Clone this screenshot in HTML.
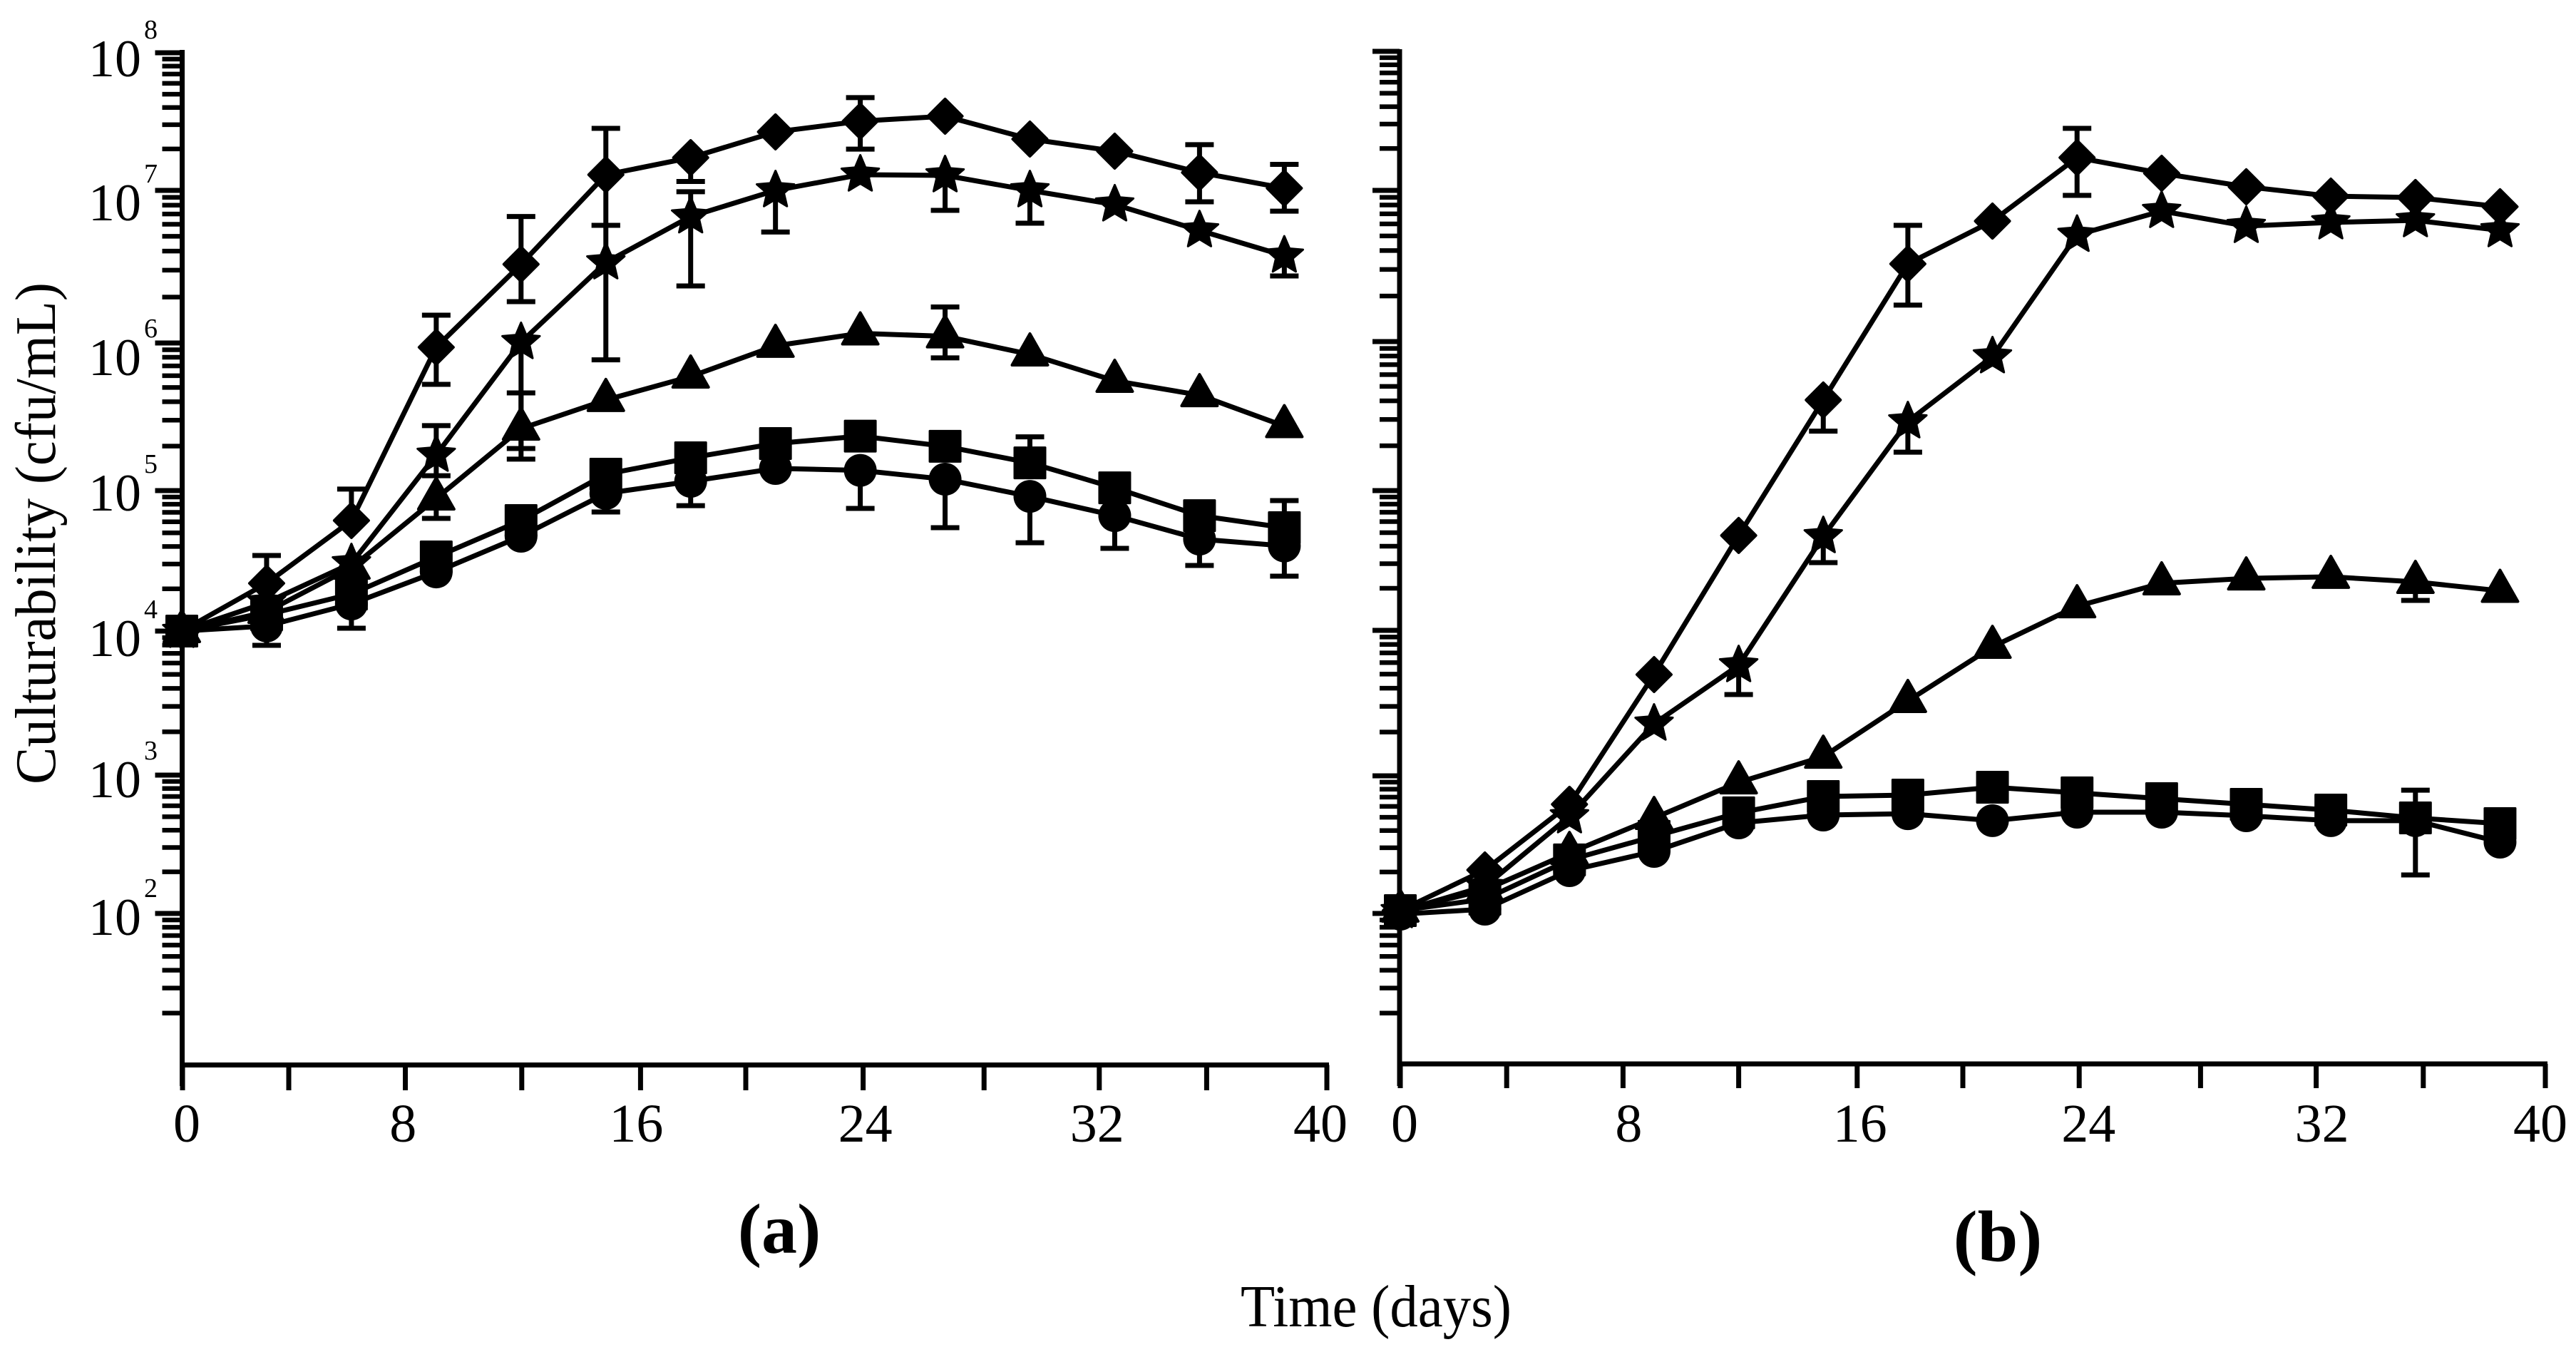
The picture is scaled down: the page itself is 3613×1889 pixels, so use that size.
<!DOCTYPE html>
<html lang="en">
<head>
<meta charset="utf-8">
<title>Culturability over time</title>
<style>
html,body{margin:0;padding:0;background:#fff;width:3613px;height:1889px;overflow:hidden}
svg{display:block}
text{font-family:"Liberation Serif",serif;fill:#000}
</style>
</head>
<body>
<svg id="figure" xmlns="http://www.w3.org/2000/svg" width="3613" height="1889" viewBox="0 0 3613 1889">
  <rect x="0" y="0" width="3613" height="1889" fill="#fff"/>
  <text transform="translate(77,1100) rotate(-90)" font-size="80" textLength="704" lengthAdjust="spacingAndGlyphs">Culturability (cfu/mL)</text>
  <text x="1740" y="1860" font-size="84" textLength="380" lengthAdjust="spacingAndGlyphs">Time (days)</text>
  <text x="1093" y="1757" font-size="100" font-weight="bold" text-anchor="middle">(a)</text>
  <text x="2802" y="1768" font-size="102" font-weight="bold" text-anchor="middle">(b)</text>
</svg>
<script>
// Shared categories and ticks
const days = [0,3,6,9,12,15,18,21,24,27,30,33,36,39];
const xTicks = [0,4,8,12,16,20,24,28,32,36,40];
const xTickLabels = [0,8,16,24,32,40];
const yDecades = [8,7,6,5,4,3,2];
const yBaseLabel = '10';
const n = null;

// Panel (a): log10(cfu/mL)
const aDiamond = [4,4.34,4.787,5.971,6.516,7.114,7.238,7.425,7.503,7.539,7.373,7.285,7.13,7.016];
const aDiamondHi = [n,4.538,5.01,6.182,6.829,7.451,n,n,7.674,n,n,n,7.332,7.189];
const aDiamondLo = [n,n,n,5.72,6.271,6.771,7.065,n,7.3,n,n,n,6.925,6.864];
const aStar = [4,4.203,4.482,5.242,6.005,6.528,6.829,7,7.114,7.109,7,6.907,6.738,6.572];
const aStarHi = [n,n,n,5.44,n,6.771,6.991,n,n,n,n,n,n,n];
const aStarLo = [n,n,n,5.101,5.213,5.886,6.374,6.727,n,6.869,6.785,n,n,6.439];
const aTriangle = [4,4.137,4.452,4.944,5.42,5.614,5.773,5.981,6.063,6.044,5.923,5.744,5.647,5.437];
const aTriangleHi = [n,n,n,n,5.662,n,n,n,n,6.236,n,n,n,n];
const aTriangleLo = [n,n,n,4.802,5.285,n,n,n,n,5.899,n,n,n,n];
const aSquare = [4,4.117,4.264,4.528,4.787,5.111,5.222,5.319,5.369,5.3,5.188,5.019,4.822,4.736];
const aSquareHi = [n,n,n,n,n,n,n,n,n,n,5.364,n,n,4.929];
const aSquareLo = [n,n,n,n,n,n,n,n,n,n,n,n,n,n];
const aCircle = [4,4.036,4.193,4.421,4.675,4.98,5.063,5.15,5.137,5.077,4.959,4.822,4.655,4.606];
const aCircleHi = [n,n,n,n,n,n,n,n,n,n,n,n,n,n];
const aCircleLo = [n,3.901,4.02,n,n,4.848,4.893,n,4.873,4.736,4.629,4.589,4.467,4.391];

// Panel (b): log10(cfu/mL)
const bDiamond = [2.021,2.316,2.793,3.696,4.679,5.608,6.514,6.797,7.236,7.123,7.026,6.962,6.953,6.892];
const bDiamondHi = [n,n,n,n,n,n,6.769,n,7.446,n,n,n,n,n];
const bDiamondLo = [n,n,n,n,n,5.399,6.241,n,6.967,n,n,n,n,n];
const bStar = [2.016,2.197,2.705,3.358,3.76,4.673,5.464,5.9,6.705,6.863,6.764,6.788,6.802,6.736];
const bStarHi = [n,n,n,n,n,n,n,n,n,n,n,n,n,n];
const bStarLo = [n,n,n,n,3.559,4.485,5.258,n,n,n,n,n,n,n];
const bTriangle = [2.021,2.171,2.44,2.694,2.953,3.132,3.515,3.887,4.173,4.337,4.372,4.383,4.347,4.283];
const bTriangleHi = [n,n,n,n,n,n,n,n,n,n,n,n,n,n];
const bTriangleLo = [n,n,n,n,n,n,n,n,n,n,n,n,4.214,n];
const bSquare = [2.021,2.104,2.389,2.56,2.731,2.85,2.86,2.917,2.876,2.834,2.793,2.751,2.694,2.653];
const bSquareHi = [n,n,n,n,n,n,n,n,n,n,n,n,2.896,n];
const bSquareLo = [n,n,n,n,n,n,n,n,n,n,n,n,n,n];
const bCircle = [1.995,2.031,2.311,2.451,2.658,2.715,2.725,2.674,2.736,2.736,2.71,2.674,2.674,2.518];
const bCircleHi = [n,n,n,n,n,n,n,n,n,n,n,n,n,n];
const bCircleLo = [n,n,n,n,n,n,n,n,n,n,n,n,2.28,n];

const NS = 'http://www.w3.org/2000/svg';
const root = document.getElementById('figure');
const INK = '#000';

function mk(tag, attrs, parent) {
  const el = document.createElementNS(NS, tag);
  for (const k in attrs) el.setAttribute(k, attrs[k]);
  parent.appendChild(el);
  return el;
}

function seg(parent, x1, y1, x2, y2, w) {
  return mk('line', {x1: x1, y1: y1, x2: x2, y2: y2, stroke: INK, 'stroke-width': w}, parent);
}

function drawMarker(parent, shape, cx, cy) {
  let el;
  if (shape === 'circle') {
    el = mk('circle', {cx: cx, cy: cy, r: 23, fill: INK}, parent);
  } else if (shape === 'square') {
    el = mk('rect', {x: cx - 21.5, y: cy - 21.5, width: 43, height: 43, fill: INK, stroke: INK, 'stroke-width': 3, 'stroke-linejoin': 'round'}, parent);
  } else if (shape === 'diamond') {
    const pts = [[0,-24],[24,0],[0,24],[-24,0]].map(p => (cx + p[0]) + ',' + (cy + p[1])).join(' ');
    el = mk('polygon', {points: pts, fill: INK, stroke: INK, 'stroke-width': 4, 'stroke-linejoin': 'round'}, parent);
  } else if (shape === 'triangle') {
    const pts = [[0,-29],[25,15],[-25,15]].map(p => (cx + p[0]) + ',' + (cy + p[1])).join(' ');
    el = mk('polygon', {points: pts, fill: INK, stroke: INK, 'stroke-width': 4, 'stroke-linejoin': 'round'}, parent);
  } else {
    const pts = [];
    for (let i = 0; i < 10; i++) {
      const r = i % 2 ? 12.5 : 27.5;
      const a = -Math.PI / 2 + i * Math.PI / 5;
      pts.push((cx + r * Math.cos(a)).toFixed(1) + ',' + (cy + r * Math.sin(a)).toFixed(1));
    }
    el = mk('polygon', {points: pts.join(' '), fill: INK, stroke: INK, 'stroke-width': 3, 'stroke-linejoin': 'round'}, parent);
  }
  return el;
}

function drawPanel(p) {
  const xScale = d => p.x0 + p.dayPx * d;
  const yScale = v => {
    const d = 8 - v;
    const i = Math.max(0, Math.min(6, Math.floor(d)));
    return p.decadePx[i] + (p.decadePx[i + 1] - p.decadePx[i]) * (d - i);
  };

  const g = mk('g', {}, root);
  
  

  // Y axis
  const yAxis = seg(g, p.axisX, p.axisTop, p.axisX, p.axisBottom, 7);
  
  

  yDecades.forEach((dec, i) => {
    const ty = yScale(dec);
    const major = seg(g, p.axisX - 38, ty, p.axisX, ty, 7);
    
    
    if (p.showYLabels) {
      const base = ty + p.yLabelDrop[i];
      const lab = mk('text', {x: 124, y: base, 'font-size': 74}, g);
      lab.textContent = yBaseLabel;
      
      
      const sup = mk('text', {x: 202, y: base - 53, 'font-size': 38}, g);
      sup.textContent = String(dec);
      
      
    }
    const lower = dec - 1;
    for (let m = 9; m >= 2; m--) {
      const my = yScale(lower + Math.log10(m));
      const minor = seg(g, p.axisX - 28, my, p.axisX, my, 6.5);
      
      
    }
  });

  // X axis
  const xAxis = seg(g, p.axisX - 3, p.axisY, p.axisRight, p.axisY, 7);
  
  

  xTicks.forEach((t, i) => {
    const tx = xScale(t) + p.xTickNudge[i];
    const tick = seg(g, tx, p.axisY, tx, p.tickBottom, 7);
    
    
  });
  xTickLabels.forEach((t, i) => {
    const lab = mk('text', {x: xScale(t) + p.xLabelNudge[i], y: 1601, 'font-size': 76, 'text-anchor': 'middle'}, g);
    lab.textContent = String(t);
    
    
  });

  // Series
  p.series.forEach(s => {
    const sg = mk('g', {}, g);
    
    

    const pts = s.values.map((v, i) => xScale(days[i]).toFixed(1) + ',' + yScale(v).toFixed(1)).join(' ');
    const line = mk('polyline', {points: pts, fill: 'none', stroke: INK, 'stroke-width': 7, 'stroke-linejoin': 'round'}, sg);
    
    

    s.values.forEach((v, i) => {
      const cx = xScale(days[i]);
      const cy = yScale(v);
      [s.hi[i], s.lo[i]].forEach(e => {
        if (e === null) return;
        const ey = yScale(e);
        const bar = mk('g', {}, sg);
        
        
        seg(bar, cx, cy, cx, ey, 7);
        seg(bar, cx - 20, ey, cx + 20, ey, 7);
      });
      const marker = drawMarker(sg, s.shape, cx, cy);
      
      
    });
  });
}

drawPanel({
  id: 'a',
  x0: 255, dayPx: 39.65,
  axisX: 255.5, axisTop: 70, axisBottom: 1523, axisY: 1493.5, axisRight: 1864, tickBottom: 1529,
  decadePx: [74,267,481,688,885,1087,1281,1481],
  showYLabels: true,
  yLabelDrop: [33,42,45,28,35,31,30],
  xTickNudge: [1,-8.6,-3.7,1,9,-2,4,15,18,10,20],
  xLabelNudge: [7,-7,3,7,15,11],
  series: [
    {name: 'diamond', shape: 'diamond', values: aDiamond, hi: aDiamondHi, lo: aDiamondLo},
    {name: 'star', shape: 'star', values: aStar, hi: aStarHi, lo: aStarLo},
    {name: 'triangle', shape: 'triangle', values: aTriangle, hi: aTriangleHi, lo: aTriangleLo},
    {name: 'square', shape: 'square', values: aSquare, hi: aSquareHi, lo: aSquareLo},
    {name: 'circle', shape: 'circle', values: aCircle, hi: aCircleHi, lo: aCircleLo}
  ]
});

drawPanel({
  id: 'b',
  x0: 1964, dayPx: 39.55,
  axisX: 1963, axisTop: 69, axisBottom: 1523, axisY: 1492, axisRight: 3573, tickBottom: 1526,
  decadePx: [72,267,479,688,884,1088,1281,1481],
  showYLabels: false,
  yLabelDrop: [0,0,0,0,0,0,0],
  xTickNudge: [0,-9,-4,0,8,-2,3,15,19,11,24],
  xLabelNudge: [6,4,12,16,27,17],
  series: [
    {name: 'diamond', shape: 'diamond', values: bDiamond, hi: bDiamondHi, lo: bDiamondLo},
    {name: 'star', shape: 'star', values: bStar, hi: bStarHi, lo: bStarLo},
    {name: 'triangle', shape: 'triangle', values: bTriangle, hi: bTriangleHi, lo: bTriangleLo},
    {name: 'square', shape: 'square', values: bSquare, hi: bSquareHi, lo: bSquareLo},
    {name: 'circle', shape: 'circle', values: bCircle, hi: bCircleHi, lo: bCircleLo}
  ]
});
</script>
</body>
</html>
